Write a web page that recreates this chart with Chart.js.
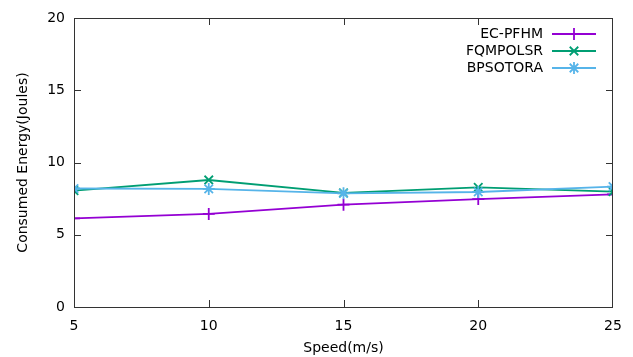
<!DOCTYPE html>
<html>
<head>
<meta charset="utf-8">
<script src="https://cdn.jsdelivr.net/npm/chart.js@4/dist/chart.umd.min.js"></script>
<style>
  html, body { margin: 0; padding: 0; background: #fff; }
  #wrap { width: 633px; height: 357px; }
</style>
</head>
<body>
<div id="wrap"><canvas id="chart" width="633" height="357"></canvas></div>
<script>
// values
const speeds = [5, 10, 15, 20, 25];
const ecPfhm = [6.14, 6.44, 7.08, 7.47, 7.8];
const fqmpolsr = [8.05, 8.79, 7.9, 8.28, 7.98];
const bpsotora = [8.2, 8.17, 7.87, 7.96, 8.33];
const yTicks = [0, 5, 10, 15, 20];

const FONT = "'DejaVu Sans', sans-serif";
const AXIS = '#333333';

function pts(vals) {
  return speeds.map((s, i) => ({ x: s, y: vals[i] }));
}

// gnuplot-like frame: full box, inward ticks on all four sides, key in top right
const gnuFrame = {
  id: 'gnuFrame',
  afterDatasetsDraw(chart) {
    const { ctx, chartArea: a, scales } = chart;
    ctx.save();
    ctx.strokeStyle = AXIS;
    ctx.lineWidth = 1;
    ctx.strokeRect(a.left + 0.5, a.top + 0.5, a.right - a.left - 1, a.bottom - a.top);
    const len = 7;
    ctx.beginPath();
    speeds.slice(1, -1).forEach(v => {
      const x = Math.round(scales.x.getPixelForValue(v)) + 0.5;
      ctx.moveTo(x, a.bottom); ctx.lineTo(x, a.bottom - len);
      ctx.moveTo(x, a.top); ctx.lineTo(x, a.top + len);
    });
    yTicks.slice(1, -1).forEach(v => {
      const y = Math.round(scales.y.getPixelForValue(v)) + 0.5;
      ctx.moveTo(a.left, y); ctx.lineTo(a.left + len, y);
      ctx.moveTo(a.right, y); ctx.lineTo(a.right - len, y);
    });
    ctx.stroke();

    // key
    ctx.font = '14px ' + FONT;
    ctx.textAlign = 'right';
    ctx.textBaseline = 'middle';
    chart.data.datasets.forEach((ds, i) => {
      const y = a.top + 16 + i * 17;
      const tx = a.right - 70;
      ctx.fillStyle = '#000';
      ctx.fillText(ds.label, tx, y);
      ctx.strokeStyle = ds.borderColor;
      ctx.lineWidth = 1.8;
      ctx.beginPath();
      ctx.moveTo(tx + 9, y); ctx.lineTo(tx + 53, y);
      ctx.stroke();
      Chart.helpers.drawPoint(ctx, {
        pointStyle: ds.pointStyle, radius: ds.pointRadius, borderWidth: 1.8, rotation: 0
      }, tx + 31, y);
    });
    ctx.restore();
  }
};

function series(label, vals, color, style, order) {
  return {
    label, data: pts(vals), order,
    borderColor: color, backgroundColor: color,
    borderWidth: 1.8, pointStyle: style, pointRadius: 6,
    pointBorderWidth: 1.8, pointHoverRadius: 6, tension: 0, fill: false
  };
}

new Chart(document.getElementById('chart'), {
  type: 'line',
  data: {
    datasets: [
      series('EC-PFHM', ecPfhm, '#9400d3', 'cross', 3),
      series('FQMPOLSR', fqmpolsr, '#009e73', 'crossRot', 2),
      series('BPSOTORA', bpsotora, '#56b4e9', 'star', 1)
    ]
  },
  options: {
    responsive: false,
    animation: false,
    layout: { padding: { left: 0, top: 18, right: 20, bottom: 0 } },
    plugins: { legend: { display: false }, tooltip: { enabled: false } },
    scales: {
      x: {
        type: 'linear', min: 5, max: 25,
        afterFit: s => { s.height = 50; },
        grid: { display: false, drawTicks: false },
        border: { display: false },
        ticks: { stepSize: 5, padding: 11, color: '#000', font: { family: FONT, size: 14 } },
        title: { display: true, text: 'Speed(m/s)', color: '#000', padding: { top: 0, bottom: 0 },
                 font: { family: FONT, size: 14 } }
      },
      y: {
        min: 0, max: 20,
        afterFit: s => { s.width = 74; },
        grid: { display: false, drawTicks: false },
        border: { display: false },
        ticks: { stepSize: 5, padding: 9, color: '#000', font: { family: FONT, size: 14 } },
        title: { display: true, text: 'Consumed Energy(Joules)', color: '#000', padding: { top: 15, bottom: 0 },
                 font: { family: FONT, size: 14 } }
      }
    }
  },
  plugins: [gnuFrame]
});
</script>
</body>
</html>
